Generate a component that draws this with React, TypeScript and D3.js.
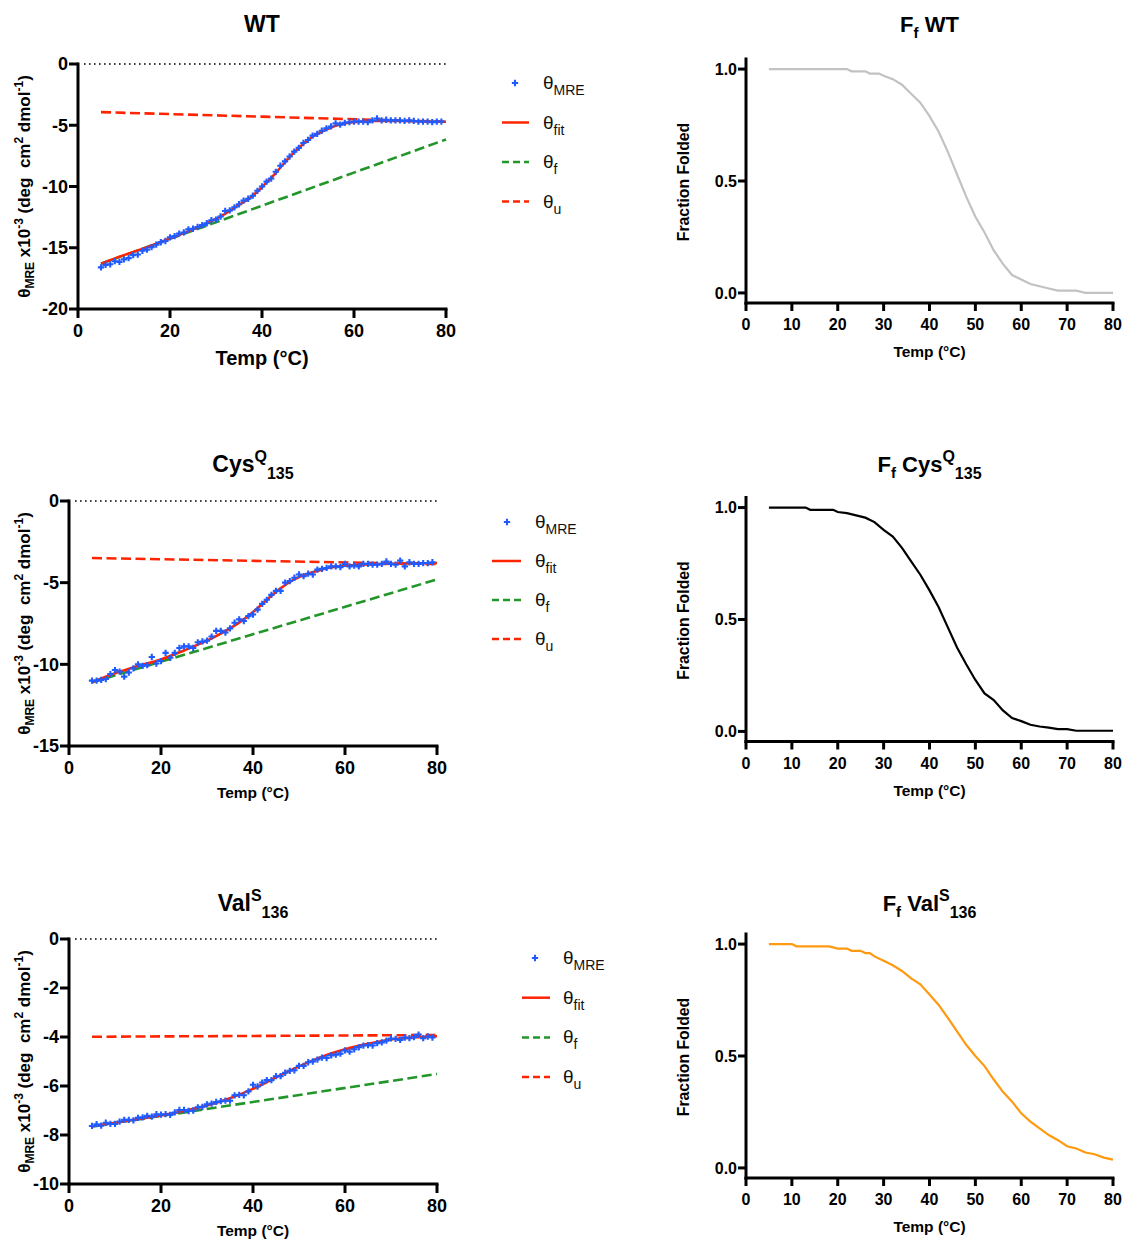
import React from "react";
import * as d3 from "d3";

// ---------- data ----------
const TEMPS = [5,6,7,8,9,10,11,12,13,14,15,16,17,18,19,20,21,22,23,24,25,26,27,28,29,30,31,32,33,34,35,36,37,38,39,40,41,42,43,44,45,46,47,48,49,50,51,52,53,54,55,56,57,58,59,60,61,62,63,64,65,66,67,68,69,70,71,72,73,74,75,76,77,78,79];

const WT_MRE = [-16.6,-16.4,-16.35,-16.1,-16.15,-15.95,-15.85,-15.6,-15.55,-15.25,-15.15,-14.95,-14.75,-14.55,-14.45,-14.15,-14.05,-13.85,-13.75,-13.5,-13.45,-13.3,-13.15,-13.0,-12.75,-12.7,-12.45,-12.0,-11.95,-11.7,-11.45,-11.15,-11.0,-10.75,-10.35,-10.0,-9.6,-9.35,-8.8,-8.3,-7.95,-7.55,-7.15,-6.85,-6.45,-6.2,-5.85,-5.7,-5.45,-5.25,-5.1,-4.85,-4.95,-4.8,-4.75,-4.7,-4.7,-4.7,-4.75,-4.6,-4.45,-4.6,-4.55,-4.6,-4.6,-4.6,-4.65,-4.6,-4.65,-4.7,-4.7,-4.7,-4.75,-4.7,-4.7];
const CYS_MRE = [-11.0,-11.0,-10.95,-10.9,-10.6,-10.35,-10.45,-10.75,-10.5,-10.25,-10.0,-10.1,-10.05,-9.55,-9.95,-9.8,-9.3,-9.6,-9.3,-9.0,-8.9,-8.9,-9.0,-8.65,-8.6,-8.55,-8.3,-7.95,-7.95,-8.05,-7.8,-7.45,-7.25,-7.35,-7.05,-6.95,-6.65,-6.3,-6.05,-5.75,-5.5,-5.5,-5.0,-4.9,-4.7,-4.5,-4.6,-4.45,-4.5,-4.2,-4.15,-4.1,-4.0,-4.0,-4.05,-3.85,-4.0,-3.95,-4.0,-3.85,-3.85,-3.9,-3.9,-3.85,-3.7,-3.85,-3.9,-3.65,-4.0,-3.75,-3.85,-3.85,-3.8,-3.8,-3.75];
const VAL_MRE = [-7.63,-7.56,-7.62,-7.5,-7.55,-7.55,-7.45,-7.38,-7.38,-7.4,-7.3,-7.28,-7.22,-7.25,-7.15,-7.17,-7.15,-7.18,-7.08,-6.98,-6.98,-7.02,-7.0,-6.87,-6.85,-6.75,-6.72,-6.65,-6.62,-6.6,-6.6,-6.38,-6.36,-6.38,-6.22,-5.95,-6.02,-5.86,-5.76,-5.76,-5.6,-5.6,-5.46,-5.38,-5.36,-5.18,-5.18,-5.03,-5.0,-4.92,-4.84,-4.86,-4.75,-4.72,-4.68,-4.55,-4.6,-4.5,-4.42,-4.35,-4.33,-4.35,-4.25,-4.22,-4.15,-4.06,-4.08,-4.12,-4.02,-4.05,-4.0,-3.9,-4.05,-3.98,-4.02];

const FIT_T = [5,10,15,20,25,30,35,38,40,42,44,46,48,50,52,54,56,58,60,65,70,75,80];
const WT_FIT = [-16.3,-15.6,-14.95,-14.25,-13.5,-12.65,-11.5,-10.75,-10.05,-9.3,-8.45,-7.6,-6.85,-6.2,-5.7,-5.35,-5.05,-4.85,-4.75,-4.65,-4.65,-4.68,-4.72];
const CYS_FIT = [-11.1,-10.55,-10.1,-9.7,-9.15,-8.55,-7.8,-7.25,-6.8,-6.3,-5.8,-5.35,-4.95,-4.65,-4.45,-4.28,-4.12,-4.02,-3.96,-3.89,-3.84,-3.82,-3.8];
const VAL_FIT_T = [5,10,15,20,25,30,35,40,45,50,55,60,65,70,75,80];
const VAL_FIT = [-7.65,-7.5,-7.35,-7.2,-7.02,-6.8,-6.5,-6.12,-5.65,-5.2,-4.8,-4.5,-4.28,-4.1,-4.02,-3.97];

const BASE_T = [5, 80];
const WT_F = [-16.3, -6.16];
const WT_U = [-3.93, -4.72];
const CYS_F = [-11.1, -4.8];
const CYS_U = [-3.49, -3.86];
const VAL_F = [-7.65, -5.51];
const VAL_U = [-3.99, -3.92];

const WT_YTICKS = [0, -5, -10, -15, -20];
const CYS_YTICKS = [0, -5, -10, -15];
const VAL_YTICKS = [0, -2, -4, -6, -8, -10];
const CD_XTICKS = [0, 20, 40, 60, 80];
const FF_XTICKS = [0, 10, 20, 30, 40, 50, 60, 70, 80];
const FF_YTICKS = [0, 0.5, 1.0];

const FF_WT_T = [5,22,23,26,27,29,30,32,34,36,38,40,42,44,46,48,50,52,54,56,58,60,62,64,66,68,72,74,80];
const FF_WT = [1.0,1.0,0.99,0.99,0.98,0.98,0.97,0.955,0.93,0.89,0.85,0.79,0.72,0.63,0.53,0.43,0.34,0.27,0.19,0.13,0.08,0.06,0.04,0.03,0.02,0.01,0.01,0.0,0.0];
const FF_CYS_T = [5,13,14,19,20,22,24,26,28,30,32,34,36,38,40,42,44,46,48,50,52,54,56,58,60,62,64,66,68,70,72,80];
const FF_CYS = [1.0,1.0,0.99,0.99,0.98,0.975,0.965,0.955,0.935,0.90,0.87,0.82,0.76,0.70,0.63,0.555,0.465,0.375,0.30,0.23,0.17,0.14,0.094,0.06,0.046,0.03,0.022,0.017,0.01,0.01,0.003,0.003];
const FF_VAL_T = [5,10,11,18,19,20,22,23,25,26,27,28,30,32,34,36,38,40,42,44,46,48,50,52,54,56,58,60,62,64,66,68,70,72,74,76,78,80];
const FF_VAL = [1.0,1.0,0.99,0.99,0.985,0.98,0.98,0.97,0.97,0.96,0.96,0.945,0.925,0.905,0.88,0.847,0.82,0.775,0.728,0.67,0.61,0.55,0.5,0.455,0.395,0.34,0.296,0.244,0.207,0.177,0.147,0.124,0.097,0.087,0.069,0.061,0.046,0.037];

// ---------- style ----------
const FONT = "'Liberation Sans', Arial, Helvetica, sans-serif";
const BLUE = "#1f5bff";
const RED = "#ff2400";
const GREEN = "#23962a";
const GRAY = "#c2c2c2";
const ORANGE = "#ff9a10";

const cross = d3.symbol().type(d3.symbolCross).size(22)() as string;

function YLabelCD({ x, y }: { x: number; y: number }) {
  return (
    <text transform={`translate(${x},${y}) rotate(-90)`} textAnchor="middle" fontSize={17} fontWeight="bold" style={{ whiteSpace: "pre" }}>
      θ<tspan fontSize={12} dy={4}>MRE</tspan>
      <tspan dy={-4}> x10</tspan>
      <tspan fontSize={12} dy={-7}>-3</tspan>
      <tspan dy={7}> (deg  cm</tspan>
      <tspan fontSize={12} dy={-7}>2</tspan>
      <tspan dy={7}> dmol</tspan>
      <tspan fontSize={12} dy={-7}>-1</tspan>
      <tspan dy={7}>)</tspan>
    </text>
  );
}

type CdProps = {
  x0: number; x1: number; yTop: number; yBot: number; yMin: number; yTicks: number[];
  data: number[]; fitT: number[]; fit: number[]; fLine: number[]; uLine: number[];
  title: React.ReactNode; titleY: number; xLabelSize: number; xLabelY: number;
  legend: { mx: number; my: number; tx: number; lx0: number; lx1: number; dy: number };
};

function Legend({ mx, my, tx, lx0, lx1, dy }: CdProps["legend"]) {
  const rows = [
    { sub: "MRE", kind: "dot", color: BLUE },
    { sub: "fit", kind: "solid", color: RED },
    { sub: "f", kind: "dash", color: GREEN },
    { sub: "u", kind: "dash", color: RED },
  ];
  return (
    <g>
      {rows.map((r, i) => {
        const yy = my + i * dy;
        return (
          <g key={i}>
            {r.kind === "dot" ? (
              <path d={cross} transform={`translate(${mx},${yy})`} fill={r.color} />
            ) : (
              <line x1={lx0} x2={lx1} y1={yy} y2={yy} stroke={r.color} strokeWidth={2.5}
                strokeDasharray={r.kind === "dash" ? "7,4" : undefined} />
            )}
            <text x={tx} y={yy + 6} fontSize={19} fill="#111">
              θ<tspan fontSize={14} dy={6}>{r.sub}</tspan>
            </text>
          </g>
        );
      })}
    </g>
  );
}

function CdPanel(p: CdProps) {
  const x = d3.scaleLinear().domain([0, 80]).range([p.x0, p.x1]);
  const y = d3.scaleLinear().domain([p.yMin, 0]).range([p.yBot, p.yTop]);
  const fitLine = d3.line<number>().x((_, i) => x(p.fitT[i])).y((v) => y(v)).curve(d3.curveMonotoneX);
  const baseLine = d3.line<number>().x((_, i) => x(BASE_T[i])).y((v) => y(v));
  const cx = (p.x0 + p.x1) / 2;
  return (
    <g>
      <text x={cx} y={p.titleY} textAnchor="middle" fontSize={23} fontWeight="bold">{p.title}</text>
      <line x1={p.x0 + 6} x2={p.x1} y1={y(0)} y2={y(0)} stroke="#000" strokeWidth={1.6} strokeDasharray="1.6,3.4" />
      <path d={baseLine(p.uLine) as string} fill="none" stroke={RED} strokeWidth={2.6} strokeDasharray="10,4.5" />
      <path d={baseLine(p.fLine) as string} fill="none" stroke={GREEN} strokeWidth={2.6} strokeDasharray="10,4.5" />
      <path d={fitLine(p.fit) as string} fill="none" stroke={RED} strokeWidth={2.6} />
      {p.data.map((v, i) => (
        <path key={i} d={cross} transform={`translate(${x(TEMPS[i])},${y(v)})`} fill={BLUE} />
      ))}
      {/* axes */}
      <line x1={p.x0} x2={p.x0} y1={p.yTop} y2={p.yBot} stroke="#000" strokeWidth={3} strokeLinecap="square" />
      <line x1={p.x0} x2={p.x1} y1={p.yBot} y2={p.yBot} stroke="#000" strokeWidth={3} strokeLinecap="square" />
      {p.yTicks.map((t) => (
        <g key={t}>
          <line x1={p.x0 - 9} x2={p.x0} y1={y(t)} y2={y(t)} stroke="#000" strokeWidth={3} />
          <text x={p.x0 - 10} y={y(t)} dy="0.36em" textAnchor="end" fontSize={18} fontWeight="bold">{t}</text>
        </g>
      ))}
      {CD_XTICKS.map((t) => (
        <g key={t}>
          <line x1={x(t)} x2={x(t)} y1={p.yBot} y2={p.yBot + 9} stroke="#000" strokeWidth={3} />
          <text x={x(t)} y={p.yBot + 28} textAnchor="middle" fontSize={18} fontWeight="bold">{t}</text>
        </g>
      ))}
      <text x={cx} y={p.xLabelY} textAnchor="middle" fontSize={p.xLabelSize} fontWeight="bold">Temp (°C)</text>
      <YLabelCD x={30} y={(p.yTop + p.yBot) / 2} />
      <Legend {...p.legend} />
    </g>
  );
}

type FfProps = { x0: number; x1: number; axisBot: number; T: number[]; v: number[]; color: string; title: React.ReactNode; titleY: number };

function FfPanel(p: FfProps) {
  const x = d3.scaleLinear().domain([0, 80]).range([p.x0, p.x1]);
  const y = d3.scaleLinear().domain([-0.045, 1.045]).range([p.axisBot, p.axisBot - 244]);
  const ln = d3.line<number>().x((_, i) => x(p.T[i])).y((d) => y(d));
  const cx = (p.x0 + p.x1) / 2;
  return (
    <g>
      <text x={cx} y={p.titleY} textAnchor="middle" fontSize={22} fontWeight="bold">{p.title}</text>
      <path d={ln(p.v) as string} fill="none" stroke={p.color} strokeWidth={2.2} />
      <line x1={p.x0} x2={p.x0} y1={p.axisBot - 244} y2={p.axisBot} stroke="#000" strokeWidth={3} strokeLinecap="square" />
      <line x1={p.x0} x2={p.x1} y1={p.axisBot} y2={p.axisBot} stroke="#000" strokeWidth={3} strokeLinecap="square" />
      {FF_YTICKS.map((t) => (
        <g key={t}>
          <line x1={p.x0 - 8} x2={p.x0} y1={y(t)} y2={y(t)} stroke="#000" strokeWidth={3} />
          <text x={p.x0 - 9} y={y(t)} dy="0.36em" textAnchor="end" fontSize={16} fontWeight="bold">{d3.format(".1f")(t)}</text>
        </g>
      ))}
      {FF_XTICKS.map((t) => (
        <g key={t}>
          <line x1={x(t)} x2={x(t)} y1={p.axisBot} y2={p.axisBot + 8} stroke="#000" strokeWidth={3} />
          <text x={x(t)} y={p.axisBot + 27} textAnchor="middle" fontSize={16} fontWeight="bold">{t}</text>
        </g>
      ))}
      <text x={cx} y={p.axisBot + 54} textAnchor="middle" fontSize={15.5} fontWeight="bold">Temp (°C)</text>
      <text transform={`translate(689,${p.axisBot - 121}) rotate(-90)`} textAnchor="middle" fontSize={15.8} fontWeight="bold">Fraction Folded</text>
    </g>
  );
}

export default function App() {
  return (
    <svg width={1125} height={1243} style={{ position: "absolute", left: 0, top: 0, background: "#fff" }} fontFamily={FONT}>
      <CdPanel x0={78} x1={446} yTop={64} yBot={309} yMin={-20} yTicks={WT_YTICKS}
        data={WT_MRE} fitT={FIT_T} fit={WT_FIT} fLine={WT_F} uLine={WT_U}
        title="WT" titleY={32} xLabelSize={20} xLabelY={365}
        legend={{ mx: 515, my: 83, tx: 543, lx0: 502, lx1: 529, dy: 39.5 }} />
      <CdPanel x0={69} x1={437} yTop={501} yBot={746} yMin={-15} yTicks={CYS_YTICKS}
        data={CYS_MRE} fitT={FIT_T} fit={CYS_FIT} fLine={CYS_F} uLine={CYS_U}
        title={<>Cys<tspan fontSize={16} dy={-10}>Q</tspan><tspan fontSize={16} dy={17}>135</tspan></>}
        titleY={472} xLabelSize={15.5} xLabelY={798}
        legend={{ mx: 507, my: 522, tx: 535, lx0: 492, lx1: 521, dy: 39 }} />
      <CdPanel x0={69} x1={437} yTop={939} yBot={1184} yMin={-10} yTicks={VAL_YTICKS}
        data={VAL_MRE} fitT={VAL_FIT_T} fit={VAL_FIT} fLine={VAL_F} uLine={VAL_U}
        title={<>Val<tspan fontSize={16} dy={-10}>S</tspan><tspan fontSize={16} dy={17}>136</tspan></>}
        titleY={911} xLabelSize={15.5} xLabelY={1236}
        legend={{ mx: 535, my: 958, tx: 563, lx0: 522, lx1: 550, dy: 39.7 }} />

      <FfPanel x0={746} x1={1113} axisBot={303} T={FF_WT_T} v={FF_WT} color={GRAY}
        title={<>F<tspan fontSize={15} dy={6}>f</tspan><tspan dy={-6}> WT</tspan></>} titleY={32} />
      <FfPanel x0={746} x1={1113} axisBot={741.5} T={FF_CYS_T} v={FF_CYS} color="#000"
        title={<>F<tspan fontSize={15} dy={6}>f</tspan><tspan dy={-6}> Cys</tspan><tspan fontSize={16} dy={-10}>Q</tspan><tspan fontSize={16} dy={17}>135</tspan></>} titleY={472} />
      <FfPanel x0={746} x1={1113} axisBot={1178} T={FF_VAL_T} v={FF_VAL} color={ORANGE}
        title={<>F<tspan fontSize={15} dy={6}>f</tspan><tspan dy={-6}> Val</tspan><tspan fontSize={16} dy={-10}>S</tspan><tspan fontSize={16} dy={17}>136</tspan></>} titleY={911} />
    </svg>
  );
}
